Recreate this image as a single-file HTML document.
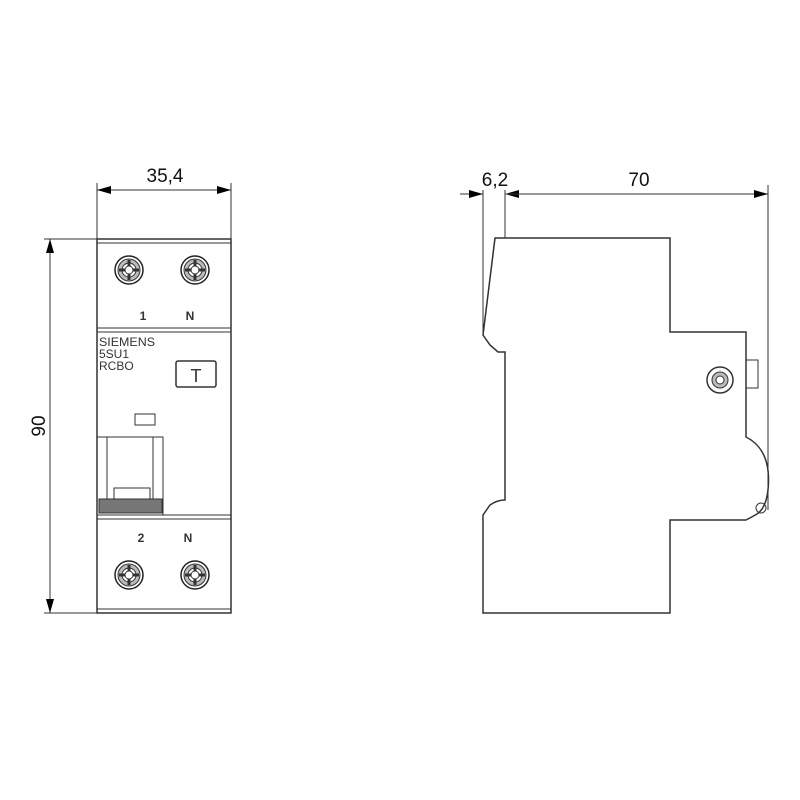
<!DOCTYPE html>
<html><head><style>body{margin:0;background:#fff}svg{display:block}</style></head><body>
<svg width="800" height="800" viewBox="0 0 800 800" xmlns="http://www.w3.org/2000/svg" font-family="Liberation Sans, sans-serif">
<defs>
<marker id="a" viewBox="0 0 14 8" refX="14" refY="4" markerWidth="14" markerHeight="8" orient="auto-start-reverse" markerUnits="userSpaceOnUse"><path d="M0,0L14,4L0,8z" fill="#000"/></marker>
<g id="scr"><circle r="14" fill="#fff" stroke="#222" stroke-width="1.5"/><circle r="11" fill="#bbb" stroke="#333"/><circle r="7" fill="#fff" stroke="#333"/><path d="M-10,0H10M0,-10V10" stroke="#333" stroke-width="3"/><circle r="4" fill="#fff" stroke="#333"/></g>
</defs>
<g stroke="#333" fill="none" stroke-width="1">
<line x1="97" y1="183" x2="97" y2="239"/><line x1="231" y1="183" x2="231" y2="239"/>
<line x1="97" y1="190" x2="231" y2="190" marker-start="url(#a)" marker-end="url(#a)"/>
<line x1="44" y1="239" x2="97" y2="239"/><line x1="44" y1="613" x2="97" y2="613"/>
<line x1="50" y1="239" x2="50" y2="613" marker-start="url(#a)" marker-end="url(#a)"/>
<rect x="97" y="239" width="134" height="374" stroke-width="1.5"/>
<line x1="97" y1="243" x2="231" y2="243"/>
<line x1="97" y1="328" x2="231" y2="328"/><line x1="97" y1="332" x2="231" y2="332"/>
<line x1="97" y1="515" x2="231" y2="515"/><line x1="97" y1="519" x2="231" y2="519"/>
<line x1="97" y1="609" x2="231" y2="609"/>
<rect x="176" y="361" width="40" height="26" rx="2" stroke-width="1.5"/>
<rect x="135" y="414" width="20" height="11"/>
<rect x="97" y="437" width="66" height="78"/>
<line x1="107" y1="437" x2="107" y2="500"/><line x1="153" y1="437" x2="153" y2="500"/>
<path d="M107,500H114V488H150V500H153"/>
<rect x="99" y="499" width="63" height="14" fill="#777"/>
<line x1="483" y1="190" x2="483" y2="335"/><line x1="505" y1="190" x2="505" y2="238"/><line x1="768" y1="185" x2="768" y2="510"/>
<line x1="460" y1="194" x2="483" y2="194" marker-end="url(#a)"/>
<line x1="530" y1="194" x2="505" y2="194" marker-end="url(#a)"/>
<line x1="505" y1="194" x2="768" y2="194" marker-end="url(#a)"/>
<path stroke-width="1.5" d="M495,238H670V332H746V437Q772,450 768,490Q766,508 757,514Q750,518 746,520H670V613H483V515L490,505Q497,500 505,500V352H498L490,345L483,335Z"/>
<path d="M483,335L495,238"/>
<rect x="746" y="360" width="12" height="28"/>
<circle cx="720" cy="380" r="13" stroke-width="1.5"/><circle cx="720" cy="380" r="8" fill="#bbb"/><circle cx="720" cy="380" r="4" fill="#fff"/>
<circle cx="761" cy="508" r="5"/>
</g>
<use href="#scr" x="129" y="270"/><use href="#scr" x="195" y="270"/>
<use href="#scr" x="129" y="575"/><use href="#scr" x="195" y="575"/>
<g font-size="19" fill="#111" text-anchor="middle">
<text x="165" y="182">35,4</text>
<text x="495" y="186">6,2</text>
<text x="639" y="186">70</text>
<text x="45" y="426" transform="rotate(-90 45 426)">90</text>
</g>
<g font-size="12" font-weight="bold" fill="#333" text-anchor="middle">
<text x="143" y="320">1</text><text x="190" y="320">N</text>
<text x="141" y="542">2</text><text x="188" y="542">N</text>
</g>
<g font-size="12" fill="#333">
<text x="99" y="346" textLength="56" lengthAdjust="spacingAndGlyphs">SIEMENS</text>
<text x="99" y="358">5SU1</text>
<text x="99" y="370">RCBO</text>
<text x="196" y="382" font-size="18" text-anchor="middle">T</text>
</g>
</svg>
</body></html>
